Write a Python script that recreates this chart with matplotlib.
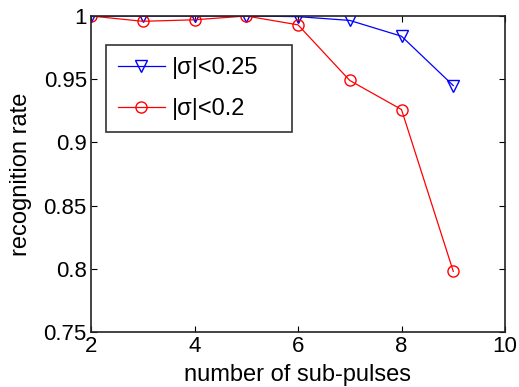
import matplotlib.pyplot as plt
import numpy as np

plt.rcParams['font.family'] = ['Liberation Sans', 'DejaVu Sans']

# recognition rate vs number of sub-pulses
n_pulses = [2, 3, 4, 5, 6, 7, 8, 9]
rate_025 = [1.0, 1.0, 1.0, 1.0, 0.9995, 0.9965, 0.984, 0.945]
rate_02 = [1.0, 0.9958, 0.997, 1.0, 0.993, 0.949, 0.926, 0.798]

xticks = [2, 4, 6, 8, 10]
yticks = [0.75, 0.8, 0.85, 0.9, 0.95, 1.0]
ytick_labels = ['0.75', '0.8', '0.85', '0.9', '0.95', '1']

fig = plt.figure(figsize=(5.19, 3.87), dpi=100)
ax = fig.add_axes([91/519, 1 - 332/387, 414/519, 316/387])

ax.plot(n_pulses, rate_025, color='blue', marker='v', markersize=8,
        markerfacecolor='none', markeredgecolor='blue', linewidth=0.9,
        label='|σ|<0.25')
ax.plot(n_pulses, rate_02, color='red', marker='o', markersize=8,
        markerfacecolor='none', markeredgecolor='red', linewidth=0.9,
        label='|σ|<0.2')

ax.set_xlim(2, 10)
ax.set_ylim(0.75, 1.0)
ax.set_xticks(xticks)
ax.set_yticks(yticks)
ax.set_yticklabels(ytick_labels)
ax.tick_params(direction='in', top=True, right=True, labelsize=16, length=4, pad=3)
for s in ax.spines.values():
    s.set_linewidth(1.2)
    s.set_color('#222222')

ax.set_xlabel('number of sub-pulses', fontsize=17, labelpad=5)
ax.set_ylabel('recognition rate', fontsize=17, labelpad=0)
ax.yaxis.set_label_coords(-0.143, 0.5)

# legend box spans a fixed region like the MATLAB one
leg = ax.legend(loc='upper left', bbox_to_anchor=(0.036, 0.627, 0.45, 0.281),
                mode='expand', fontsize=17, frameon=True, fancybox=False,
                edgecolor='black', borderpad=0.5, borderaxespad=0,
                handlelength=2.0, handletextpad=0.3, labelspacing=0.8)
leg.get_frame().set_linewidth(1.2)

fig.savefig('out.png', dpi=100)
